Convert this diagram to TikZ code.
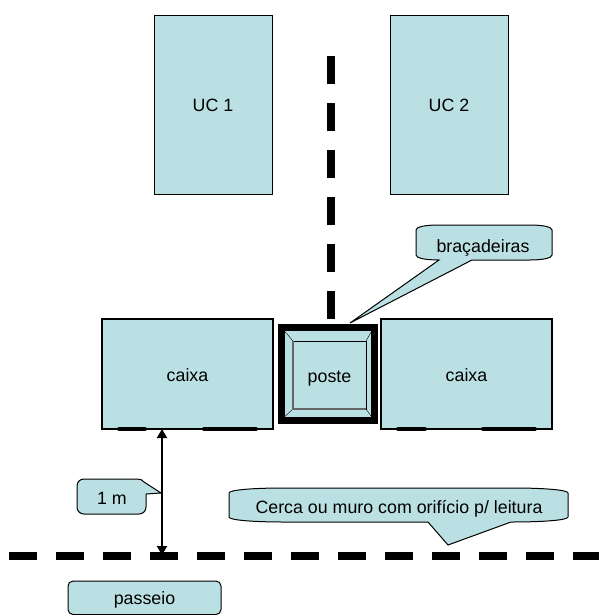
\documentclass[tikz,border=0pt]{standalone}
\usepackage{fontspec}
\setmainfont{Liberation Sans}
\usetikzlibrary{arrows.meta}
\definecolor{azul}{RGB}{187,224,227}
\tikzset{
  rotulo/.style={font=\fontsize{17.8}{20}\selectfont, text height=14pt, text depth=0pt},
  casa/.style={draw, rectangle, fill=azul, line width=1pt, outer sep=0pt, minimum width=118pt, minimum height=179pt, rotulo},
  caixa/.style={draw, rectangle, fill=azul, line width=2pt, outer sep=0pt, minimum width=171pt, minimum height=110pt, rotulo},
  balao/.style={draw, fill=azul, line width=1pt, line join=miter},
  muro/.style={line width=7.5pt, dash pattern=on 28pt off 19pt},
  barra/.style={line width=4pt, line cap=round}
}

\begin{document}
\begin{tikzpicture}[x=1pt,y=-1pt]
  \useasboundingbox (0,0) rectangle (599,615);

  % casas
  \node[casa] (uc1) at (213,105) {UC 1};
  \node[casa] (uc2) at (449,105) {UC 2};

  % muros
  \coordinate (muroa) at (331,319);
  \coordinate (murob) at (331,56);
  \coordinate (muroc) at (9,556);
  \coordinate (murod) at (599,556);
  \draw[muro] (muroa) -- (murob);
  \draw[muro] (muroc) -- (murod);

  % caixas
  \node[caixa] (caixa1) at (187.5,374) {caixa};
  \node[caixa] (caixa2) at (466.5,374) {caixa};
  \draw[barra] ([xshift=17pt]caixa1.south west) -- ([xshift=43pt]caixa1.south west);
  \draw[barra] ([xshift=102pt]caixa1.south west) -- ([xshift=154pt]caixa1.south west);
  \draw[barra] ([xshift=17pt]caixa2.south west) -- ([xshift=44pt]caixa2.south west);
  \draw[barra] ([xshift=102pt]caixa2.south west) -- ([xshift=154pt]caixa2.south west);

  % poste
  \node[draw, rectangle, fill=azul, line width=7pt, outer sep=0pt, minimum width=93pt, minimum height=93pt] (base) at (327.5,373.5) {};
  \node[draw, rectangle, fill=azul, line width=1pt, outer sep=0pt, minimum width=73pt, minimum height=68pt, rotulo] (poste) at (329.5,375) {poste};
  \draw (base.north west) -- (poste.north west);
  \draw (base.north east) -- (poste.north east);
  \draw (base.south west) -- (poste.south west);
  \draw (base.south east) -- (poste.south east);
  \draw[gray!80!black, line width=1.5pt] (poste.north west) -- (poste.south west) -- (poste.south east);

  % baloes
  \draw[balao] (438,225) -- (530,225) .. controls (543,225) and (552,227) .. (552,230) -- (552,255)
    .. controls (552,258) and (543,260) .. (530,260) -- (472,260) -- (350,323) -- (439,260)
    .. controls (425,260) and (416,258) .. (416,255) -- (416,230) .. controls (416,227) and (425,225) .. (438,225) -- cycle;
  \node[rotulo] (bracadeiras) at (483,245) {braçadeiras};

  \draw[balao] (284,488) -- (513,488) .. controls (545,488) and (568,490) .. (568,493) -- (568,517)
    .. controls (568,520) and (545,522) .. (511,522) -- (448,545) -- (428,522) -- (284,522)
    .. controls (252,522) and (229,520) .. (229,517) -- (229,493) .. controls (229,490) and (252,488) .. (284,488) -- cycle;
  \node[rotulo] (cerca) at (399,506) {Cerca ou muro com orifício p/ leitura};

  \draw[balao] (84,479) -- (137,479) .. controls (140,479) and (143,480) .. (144,482) -- (161,493) -- (146,494) -- (146,507)
    .. controls (146,511) and (143,514) .. (139,514) -- (84,514)
    .. controls (80,514) and (77,511) .. (77,507) -- (77,486) .. controls (77,482) and (80,479) .. (84,479) -- cycle;
  \node[rotulo] (ummetro) at (112,497) {1 m};

  \node[draw, rectangle, rounded corners=5pt, fill=azul, line width=1pt, outer sep=0pt, minimum width=153pt, minimum height=33.5pt, rotulo] (passeio) at (144.5,597.75) {passeio};

  % distancia
  \coordinate (setaa) at (162,429);
  \coordinate (setab) at (162,555);
  \draw[{Triangle[length=9pt,width=10pt]}-{Triangle[length=9pt,width=10pt]},line width=2.3pt] (setaa) -- (setab);
\end{tikzpicture}
\end{document}
